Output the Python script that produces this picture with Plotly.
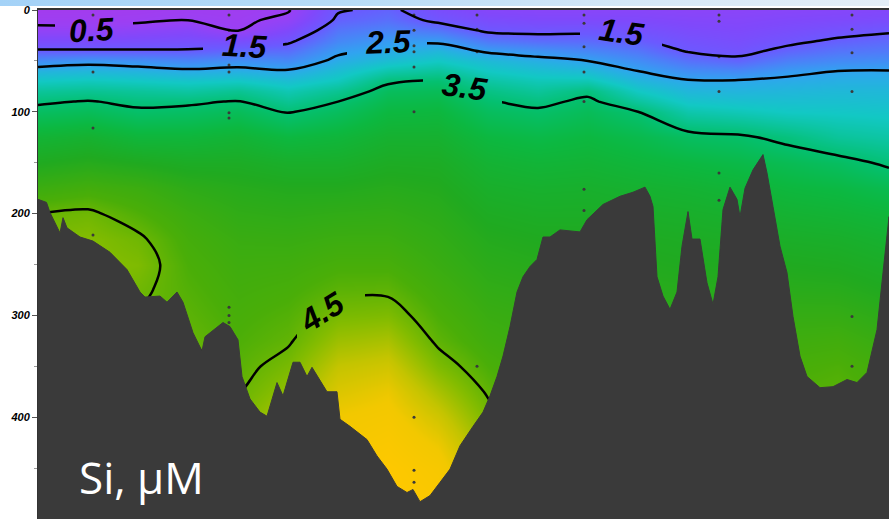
import plotly.graph_objects as go

# ---------------- data ----------------
depth_levels = [0, 10, 20, 30, 40, 50, 60, 70, 80, 90, 100, 125, 150, 175, 200,
                225, 250, 275, 300, 325, 350, 375, 400, 425, 450, 475, 500]

column_km = [0, 10, 20, 30, 40, 50, 60, 70, 80, 90, 100, 110, 120, 130, 140, 150, 160, 170.2]

# Si (uM) profile at each column, values per depth level (read from the section)
si_km0 = [0.2, 0.35, 0.65, 1.1, 1.55, 2.2, 2.7, 3.0, 3.25, 3.45, 3.6, 3.9, 4.1, 4.3, 4.5, 4.58, 4.6, 4.6, 4.6, 4.6, 4.6, 4.6, 4.6, 4.6, 4.6, 4.6, 4.6]
si_km10 = [0.2, 0.35, 0.65, 1.1, 1.55, 2.35, 2.75, 3.05, 3.3, 3.52, 3.65, 3.95, 4.15, 4.35, 4.53, 4.6, 4.62, 4.62, 4.62, 4.62, 4.62, 4.62, 4.62, 4.62, 4.62, 4.62, 4.62]
si_km20 = [0.25, 0.4, 0.75, 1.15, 1.55, 2.25, 2.7, 3.0, 3.25, 3.43, 3.55, 3.85, 4.1, 4.3, 4.42, 4.53, 4.58, 4.53, 4.5, 4.5, 4.5, 4.5, 4.5, 4.5, 4.5, 4.5, 4.5]
si_km30 = [0.35, 0.5, 0.85, 1.2, 1.55, 2.1, 2.6, 2.95, 3.2, 3.45, 3.58, 3.85, 4.05, 4.2, 4.3, 4.36, 4.4, 4.43, 4.46, 4.5, 4.55, 4.6, 4.62, 4.62, 4.62, 4.62, 4.62]
si_km40 = [0.3, 0.38, 0.48, 1.15, 1.7, 2.25, 2.65, 3.0, 3.3, 3.52, 3.65, 3.9, 4.05, 4.15, 4.22, 4.28, 4.32, 4.35, 4.38, 4.41, 4.45, 4.5, 4.56, 4.6, 4.62, 4.62, 4.62]
si_km50 = [0.45, 0.65, 1.0, 1.38, 1.75, 2.15, 2.55, 2.85, 3.1, 3.3, 3.48, 3.8, 4.0, 4.12, 4.2, 4.27, 4.33, 4.38, 4.43, 4.48, 4.56, 4.65, 4.75, 4.8, 4.85, 4.85, 4.85]
si_km60 = [1.45, 1.6, 1.85, 2.1, 2.4, 2.62, 2.85, 3.05, 3.3, 3.5, 3.62, 3.85, 4.0, 4.12, 4.22, 4.3, 4.38, 4.46, 4.56, 4.68, 4.8, 4.9, 5.0, 5.05, 5.1, 5.1, 5.1]
si_km70 = [1.62, 1.78, 2.05, 2.38, 2.6, 2.85, 3.15, 3.45, 3.62, 3.72, 3.8, 3.95, 4.06, 4.15, 4.23, 4.3, 4.38, 4.47, 4.58, 4.72, 4.85, 4.97, 5.05, 5.12, 5.18, 5.2, 5.2]
si_km80 = [1.15, 1.38, 1.85, 2.4, 2.75, 3.0, 3.25, 3.5, 3.65, 3.75, 3.82, 3.95, 4.05, 4.12, 4.18, 4.23, 4.28, 4.34, 4.4, 4.47, 4.58, 4.72, 4.85, 4.97, 5.07, 5.12, 5.15]
si_km90 = [0.9, 1.12, 1.4, 1.9, 2.42, 2.8, 3.0, 3.2, 3.38, 3.52, 3.62, 3.8, 3.92, 4.0, 4.07, 4.13, 4.18, 4.23, 4.28, 4.33, 4.4, 4.48, 4.56, 4.65, 4.72, 4.78, 4.8]
si_km100 = [0.85, 1.05, 1.35, 1.75, 2.28, 2.65, 2.88, 3.08, 3.25, 3.42, 3.55, 3.75, 3.88, 3.97, 4.04, 4.1, 4.15, 4.2, 4.25, 4.28, 4.3, 4.32, 4.34, 4.36, 4.38, 4.4, 4.4]
si_km110 = [0.85, 1.05, 1.38, 1.72, 2.1, 2.5, 2.8, 3.1, 3.42, 3.57, 3.65, 3.8, 3.9, 3.98, 4.04, 4.1, 4.14, 4.18, 4.22, 4.25, 4.27, 4.29, 4.3, 4.3, 4.3, 4.3, 4.3]
si_km120 = [0.85, 1.02, 1.25, 1.55, 1.88, 2.2, 2.5, 2.75, 3.0, 3.25, 3.5, 3.72, 3.85, 3.95, 4.02, 4.08, 4.12, 4.16, 4.2, 4.23, 4.25, 4.27, 4.28, 4.28, 4.28, 4.28, 4.28]
si_km130 = [0.8, 0.95, 1.1, 1.28, 1.45, 1.82, 2.2, 2.55, 2.75, 2.95, 3.15, 3.6, 3.8, 3.92, 4.0, 4.06, 4.1, 4.15, 4.2, 4.23, 4.26, 4.28, 4.3, 4.3, 4.3, 4.3, 4.3]
si_km140 = [0.8, 0.92, 1.03, 1.17, 1.32, 1.65, 2.12, 2.55, 2.72, 2.9, 3.08, 3.55, 3.75, 3.88, 3.97, 4.04, 4.1, 4.15, 4.2, 4.25, 4.3, 4.33, 4.35, 4.35, 4.35, 4.35, 4.35]
si_km150 = [0.85, 1.0, 1.15, 1.35, 1.65, 2.0, 2.38, 2.6, 2.75, 2.88, 3.0, 3.42, 3.68, 3.82, 3.93, 4.02, 4.1, 4.17, 4.25, 4.32, 4.38, 4.42, 4.44, 4.44, 4.44, 4.44, 4.44]
si_km160 = [0.9, 1.05, 1.28, 1.58, 1.85, 2.15, 2.5, 2.65, 2.78, 2.88, 2.98, 3.25, 3.6, 3.78, 3.9, 4.0, 4.08, 4.16, 4.25, 4.34, 4.41, 4.45, 4.46, 4.46, 4.46, 4.46, 4.46]
si_km170 = [0.95, 1.12, 1.42, 1.7, 1.92, 2.2, 2.52, 2.65, 2.77, 2.86, 2.95, 3.18, 3.45, 3.7, 3.85, 3.95, 4.03, 4.1, 4.18, 4.26, 4.33, 4.38, 4.4, 4.4, 4.4, 4.4, 4.4]

si_profiles = [si_km0, si_km10, si_km20, si_km30, si_km40, si_km50, si_km60, si_km70, si_km80,
               si_km90, si_km100, si_km110, si_km120, si_km130, si_km140, si_km150, si_km160, si_km170]

# bottom topography (distance km, depth m)
bottom_km = [0, 1.7, 2.4, 4.4, 5.0, 5.8, 8.4, 11.0, 14.4, 17.8, 20.4, 21.4, 24.4, 25.8, 27.8, 29.0,
             31.0, 32.8, 33.4, 37.0, 38.4, 40.0, 40.8, 42.4, 44.4, 45.8, 47.8, 49.0, 51.0, 52.4,
             53.8, 54.8, 57.8, 59.8, 60.4, 62.4, 65.8, 67.8, 69.8, 71.8, 73.8, 75.0, 76.4, 78.4,
             80.4, 82.4, 84.4, 87.0, 89.0, 90.4, 91.8, 93.0, 94.4, 95.8, 97.0, 98.4, 99.8, 101.0,
             102.4, 104.4, 108.4, 109.8, 113.0, 116.4, 119.0, 121.4, 122.4, 123.0, 123.8, 125.0,
             126.4, 127.8, 128.8, 130.0, 130.8, 132.4, 133.8, 135.0, 136.0, 137.0, 138.4, 139.8,
             140.4, 141.4, 143.0, 145.0, 145.8, 147.0, 148.4, 149.8, 151.0, 152.4, 153.8, 156.4,
             159.0, 161.8, 163.8, 165.8, 167.8, 169.0, 170.2]
bottom_depth = [186, 189, 199, 219, 204, 214, 223, 227, 238, 255, 277, 282, 281, 287, 277, 287,
                317, 335, 321, 307, 311, 324, 360, 382, 395, 399, 366, 379, 346, 346,
                360, 351, 375, 375, 402, 409, 422, 438, 451, 468, 474, 471, 483, 477,
                464, 451, 428, 409, 395, 379, 360, 340, 311, 277, 262, 252, 245, 223,
                223, 216, 218, 206, 191, 183, 179, 174, 183, 193, 262, 281,
                294, 277, 232, 198, 225, 225, 268, 289, 262, 196, 174, 186,
                203, 175, 157, 142, 160, 193, 232, 258, 301, 340, 360, 371,
                370, 363, 366, 356, 314, 258, 203]

# sampling stations (distance km) and bottle depths (m)
station_km = [11.0, 38.2, 75.2, 87.8, 109.2, 136.2, 162.8]
station_depths = [
    [5, 61, 116, 221],
    [5, 20, 54, 61, 101, 106, 292, 300, 307],
    [5, 20, 35, 41, 56, 100, 400, 452, 464],
    [5, 19, 41, 350],
    [5, 13, 36, 61, 90, 176, 197],
    [5, 11, 46, 80, 160, 187],
    [5, 19, 42, 80, 301, 350],
]

depth_ticks = [0, 100, 200, 300, 400, 500]
contour_levels = [0.5, 1.5, 2.5, 3.5, 4.5]

# colour ramp: Si value -> colour
ramp_values = [0.2, 0.5, 1.0, 1.5, 2.0, 2.5, 3.0, 3.5, 3.8, 4.1, 4.4, 4.6, 4.8, 5.0, 5.2]
ramp_colors = ["#a23cee", "#9a40f4", "#8048fb", "#6a5aff", "#4c80f8", "#30a4f0", "#12c8c4",
               "#04c070", "#0cb840", "#20aa20", "#4aae08", "#84bc00", "#c4c400", "#f2c800", "#ffc800"]

# ---------------- layout choices (label placement) ----------------
# label: level, centre km, centre depth, angle (deg), gap in the isoline (km from, km to)
label_specs = [
    (0.5, 10.8, 19.5, -3, 3.4, 19.0),
    (1.5, 41.4, 35.0, 3, 33.0, 49.0),
    (2.5, 70.0, 31.0, -2, 61.8, 77.8),
    (3.5, 85.4, 76.0, 8, 77.0, 92.8),
    (1.5, 116.8, 21.5, 8, 108.4, 124.8),
    (4.5, 56.8, 297.0, -32, 51.8, 65.4),
]

# ---------------- figure ----------------
X0, X1 = column_km[0], column_km[-1]
zmin, zmax = ramp_values[0], ramp_values[-1]
colorscale = [[(v - zmin) / (zmax - zmin), c] for v, c in zip(ramp_values, ramp_colors)]

z = [[si_profiles[j][i] for j in range(len(column_km))] for i in range(len(depth_levels))]

fig = go.Figure()

# colour field (main subplot), no lines
fig.add_trace(go.Contour(
    x=column_km, y=depth_levels, z=z,
    zmin=zmin, zmax=zmax, colorscale=colorscale, showscale=False,
    contours=dict(start=contour_levels[0], end=contour_levels[-1],
                  size=contour_levels[1] - contour_levels[0],
                  coloring="heatmap", showlines=False),
    line=dict(width=0),
    hoverinfo="skip",
))

# isolines: each level is drawn on hidden x-axes whose domains skip the label gaps,
# so the line is interrupted where its label sits
extra_axes = {}
axis_n = 2
for lev in contour_levels:
    gaps = sorted((g0, g1) for (l, _, _, _, g0, g1) in label_specs if l == lev)
    pieces, start = [], X0
    for g0, g1 in gaps:
        pieces.append((start, g0))
        start = g1
    pieces.append((start, X1))
    for a, b in pieces:
        name = f"x{axis_n}"
        extra_axes[f"xaxis{axis_n}"] = dict(
            domain=[(a - X0) / (X1 - X0), (b - X0) / (X1 - X0)], range=[a, b],
            anchor="y", visible=False, showgrid=False, zeroline=False, automargin=False)
        fig.add_trace(go.Contour(
            x=column_km, y=depth_levels, z=z, xaxis=name, yaxis="y", showscale=False,
            contours=dict(start=lev, end=lev, size=1, coloring="none", showlines=True),
            line=dict(color="black", width=2.5, smoothing=1.0),
            hoverinfo="skip",
        ))
        axis_n += 1

# sampling points
sx, sy = [], []
for km, ds in zip(station_km, station_depths):
    for d in ds:
        sx.append(km)
        sy.append(d)
fig.add_trace(go.Scatter(x=sx, y=sy, mode="markers",
                         marker=dict(size=3, color="#3a3a3a"),
                         hoverinfo="skip", showlegend=False))

# sea floor, drawn above all traces
Y_BOTTOM = 510
path = "M " + " L ".join(f"{k},{d}" for k, d in zip(bottom_km, bottom_depth))
path += f" L {bottom_km[-1]},{Y_BOTTOM} L {bottom_km[0]},{Y_BOTTOM} Z"
fig.add_shape(type="path", path=path, xref="x", yref="y", layer="above",
              fillcolor="#3a3a3a", line=dict(color="#3a3a3a", width=1))

# isoline labels
for lev, km, dep, ang, _, _ in label_specs:
    fig.add_annotation(x=km, y=dep, xref="x", yref="y", text=f"{lev:.1f}", showarrow=False,
                       textangle=ang, xanchor="center", yanchor="middle",
                       font=dict(family="Liberation Sans", size=32, color="black",
                                 weight="bold", style="italic"))

fig.add_annotation(text="Si, μM", xref="paper", yref="paper", x=0.046, y=0.082,
                   xanchor="left", yanchor="middle", showarrow=False,
                   font=dict(family="Open Sans", size=44, color="white"))

fig.update_layout(
    width=889, height=519,
    margin=dict(l=38, r=0, t=10, b=0, autoexpand=False),
    paper_bgcolor="rgba(0,0,0,0)", plot_bgcolor="rgba(0,0,0,0)",
    showlegend=False,
    xaxis=dict(range=[X0, X1], domain=[0, 1], showticklabels=False, ticks="",
               showgrid=False, zeroline=False, showline=True, mirror=True,
               linecolor="#333333", linewidth=1.5, automargin=False),
    yaxis=dict(range=[500, 0], tickvals=depth_ticks, ticks="outside", ticklen=5,
               tickcolor="#555555", showgrid=False, zeroline=False, automargin=False,
               showline=True, linecolor="#333333", linewidth=1,
               tickfont=dict(family="Liberation Sans", size=11, color="black",
                             weight="bold", style="italic"),
               minor=dict(tickvals=[50, 150, 250, 350, 450], ticks="outside", ticklen=3,
                          tickcolor="#999999")),
    **extra_axes,
)

# page: no body margin, slide header band (light blue fading right) behind the transparent figure
page_js = (
    "document.body.style.margin='0px';"
    "document.body.style.background="
    "'linear-gradient(to right, #a4d2f7 0%, #b8dcf7 40%, #d4e7f7 70%, #e4eef7 100%) "
    "0 0 / 100% 6px no-repeat, #ffffff';"
)
fig.write_html("out.html", config={"displayModeBar": False}, post_script=page_js)
